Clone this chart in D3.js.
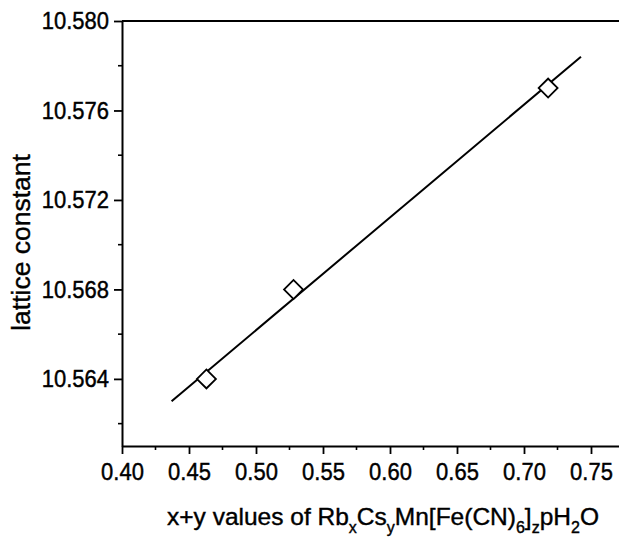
<!DOCTYPE html>
<html>
<head>
<meta charset="utf-8">
<script src="https://cdn.jsdelivr.net/npm/d3@7"></script>
<style>
	body { margin: 0; background: #fff; }
	text { font-family: "Liberation Sans", Arial, sans-serif; fill: #000; stroke: #000; stroke-width: 0.4px; }
</style>
</head>
<body>
<script>
// measured points
var xValues = [0.463, 0.528, 0.718];
var latticeValues = [10.564, 10.568, 10.577];

// linear fit, ends
var fitX = [0.437, 0.7425];
var fitY = [10.5630, 10.5784];

var xMajorTicks = [0.40, 0.45, 0.50, 0.55, 0.60, 0.65, 0.70, 0.75];
var xMinorTicks = [0.425, 0.475, 0.525, 0.575, 0.625, 0.675, 0.725, 0.775];
var yMajorTicks = [10.564, 10.568, 10.572, 10.576, 10.580];
var yMinorTicks = [10.562, 10.566, 10.570, 10.574, 10.578];

var width = 619, height = 540;
var margin = { top: 21, left: 122, bottom: 94 };

var svg = d3.select('body')
	.append('svg')
		.attr('width', width)
		.attr('height', height);

var x = d3.scaleLinear()
	.domain([0.40, 0.78])
	.range([margin.left, margin.left + 67 / 0.05 * 0.38]);

var y = d3.scaleLinear()
	.domain([10.561, 10.580])
	.range([height - margin.bottom, margin.top]);

// frame top and right (right side falls off the picture)
svg.append('path')
	.attr('d', 'M' + x(0.40) + ',' + y(10.580) + 'H' + x(0.78) + 'V' + y(10.561))
	.attr('fill', 'none')
	.attr('stroke', '#000')
	.attr('stroke-width', 2);

// x axis
var xAxis = d3.axisBottom(x)
	.tickValues(xMajorTicks)
	.tickFormat(d3.format('.2f'))
	.tickSize(8)
	.tickPadding(7)
	.tickSizeOuter(0);

var gx = svg.append('g')
	.attr('class', 'x axis')
	.attr('transform', 'translate(0,' + y(10.561) + ')')
	.call(xAxis);

gx.selectAll('.minor')
	.data(xMinorTicks)
	.enter().append('line')
		.attr('class', 'minor')
		.attr('x1', function(d) { return x(d); })
		.attr('x2', function(d) { return x(d); })
		.attr('y1', 0)
		.attr('y2', 4)
		.attr('stroke', '#000')
		.attr('stroke-width', 1.6);

// y axis
var yAxis = d3.axisLeft(y)
	.tickValues(yMajorTicks)
	.tickFormat(d3.format('.3f'))
	.tickSize(8)
	.tickPadding(5)
	.tickSizeOuter(0);

var gy = svg.append('g')
	.attr('class', 'y axis')
	.attr('transform', 'translate(' + x(0.40) + ',0)')
	.call(yAxis);

gy.selectAll('.minor')
	.data(yMinorTicks)
	.enter().append('line')
		.attr('class', 'minor')
		.attr('y1', function(d) { return y(d); })
		.attr('y2', function(d) { return y(d); })
		.attr('x1', 0)
		.attr('x2', -4)
		.attr('stroke', '#000')
		.attr('stroke-width', 1.6);

svg.selectAll('.axis path.domain').attr('stroke-width', 2);
svg.selectAll('.axis .tick line').attr('stroke-width', 1.8);
svg.selectAll('.axis text')
	.style('font-size', '22px')
	.style('font-family', '"Liberation Sans", Arial, sans-serif')
	.attr('fill', '#000')
	.attr('transform', 'scale(1,1.12)');

// fit line
var line = d3.line()
	.x(function(d) { return x(d[0]); })
	.y(function(d) { return y(d[1]); });

svg.append('path')
	.datum(d3.zip(fitX, fitY))
	.attr('d', line)
	.attr('fill', 'none')
	.attr('stroke', '#000')
	.attr('stroke-width', 2);

// open diamonds
var diamond = d3.symbol().type(d3.symbolSquare).size(180);
svg.selectAll('.pt')
	.data(d3.zip(xValues, latticeValues))
	.enter().append('path')
		.attr('class', 'pt')
		.attr('d', diamond)
		.attr('transform', function(d) {
			return 'translate(' + x(d[0]) + ',' + y(d[1]) + ') rotate(45)';
		})
		.attr('fill', '#fff')
		.attr('stroke', '#000')
		.attr('stroke-width', 1.8);

// axis titles
svg.append('text')
	.attr('transform', 'translate(30,' + y(10.5701) + ') rotate(-90)')
	.attr('text-anchor', 'middle')
	.style('font-size', '26.5px')
	.text('lattice constant');

var xt = svg.append('text')
	.attr('x', 383)
	.attr('y', 525)
	.attr('text-anchor', 'middle')
	.style('font-size', '24.5px');

var parts = [
	['x+y values of Rb', false], ['x', true], ['Cs', false], ['y', true],
	['Mn[Fe(CN)', false], ['6', true], [']', false], ['z', true],
	['pH', false], ['2', true], ['O', false]
];
parts.forEach(function(p) {
	var t = xt.append('tspan').text(p[0]);
	if (p[1]) t.attr('dy', 8).style('font-size', '16px');
	else if (xt.selectAll('tspan').size() > 1) t.attr('dy', -8);
});
</script>
</body>
</html>
